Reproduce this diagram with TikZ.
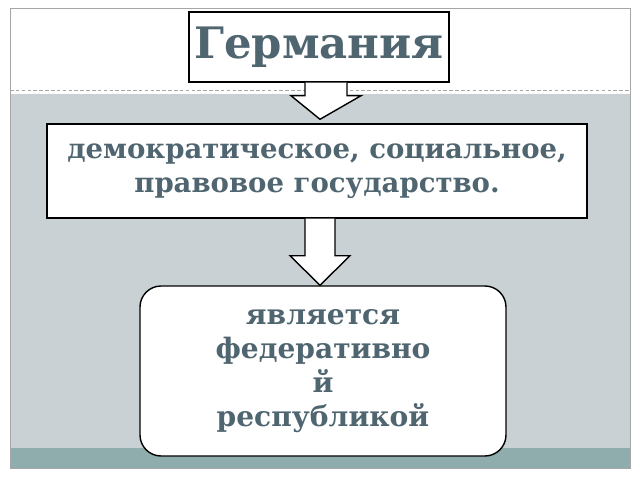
\documentclass[tikz,border=0pt]{standalone}
\usepackage{fontspec}
\setmainfont{DejaVu Serif}
\usetikzlibrary{calc}
\definecolor{txt}{HTML}{4F6570}
\definecolor{panelgray}{HTML}{C9D1D4}
\definecolor{band}{HTML}{8FADAD}
\begin{document}
\begin{tikzpicture}[x={(0.03cm,0)},y={(0,-0.03cm)}]
        \tikzstyle{box}=[draw,line width=1.2pt,fill=white,inner sep=0pt,text=txt,font=\bfseries,align=center]
        \tikzstyle{downarrow}=[draw,line width=1.2pt,fill=white]
        \useasboundingbox (0,0) rectangle (640,480);
        \fill[white] (0,0) rectangle (640,480);
        % background panels
        \fill[panelgray] (10,94) rectangle (630,448);
        \fill[band] (10,448) rectangle (630,468);
        \draw[gray!70,densely dashed] (10,90) -- (630,90);
        \draw[gray!70] (10,8) rectangle (630,468);
        % boxes
        \node[box,minimum width=7.8cm,minimum height=2.1cm,font=\bfseries\fontsize{37}{40}\selectfont] (title) at (319,47) {Германия};
        \node[box,minimum width=16.2cm,minimum height=2.82cm,font=\bfseries\fontsize{23.5}{29}\selectfont] (state) at (317,171) {демократическое, социальное,\\правовое государство.};
        \node[box,rounded corners=18pt,minimum width=10.98cm,minimum height=5.1cm,font=\bfseries\fontsize{24}{29}\selectfont] (rep) at (323,371) {является\\федеративно\\й\\республикой};
        % arrows
        \draw[downarrow] ($(title.south)+(-14,0)$) -- ++(0,13) -- ++(-14,0) -- ($(state.north)+(3,-4)$) -- ($(title.south)+(42,13)$) -- ++(-14,0) -- ($(title.south)+(28,0)$);
        \draw[downarrow] ($(state.south)+(-12,0)$) -- ++(0,37) -- ++(-15,0) -- ($(rep.north)+(-3,0)$) -- ($(state.south)+(33,37)$) -- ++(-15,0) -- ($(state.south)+(18,0)$);
    \end{tikzpicture}
\end{document}
